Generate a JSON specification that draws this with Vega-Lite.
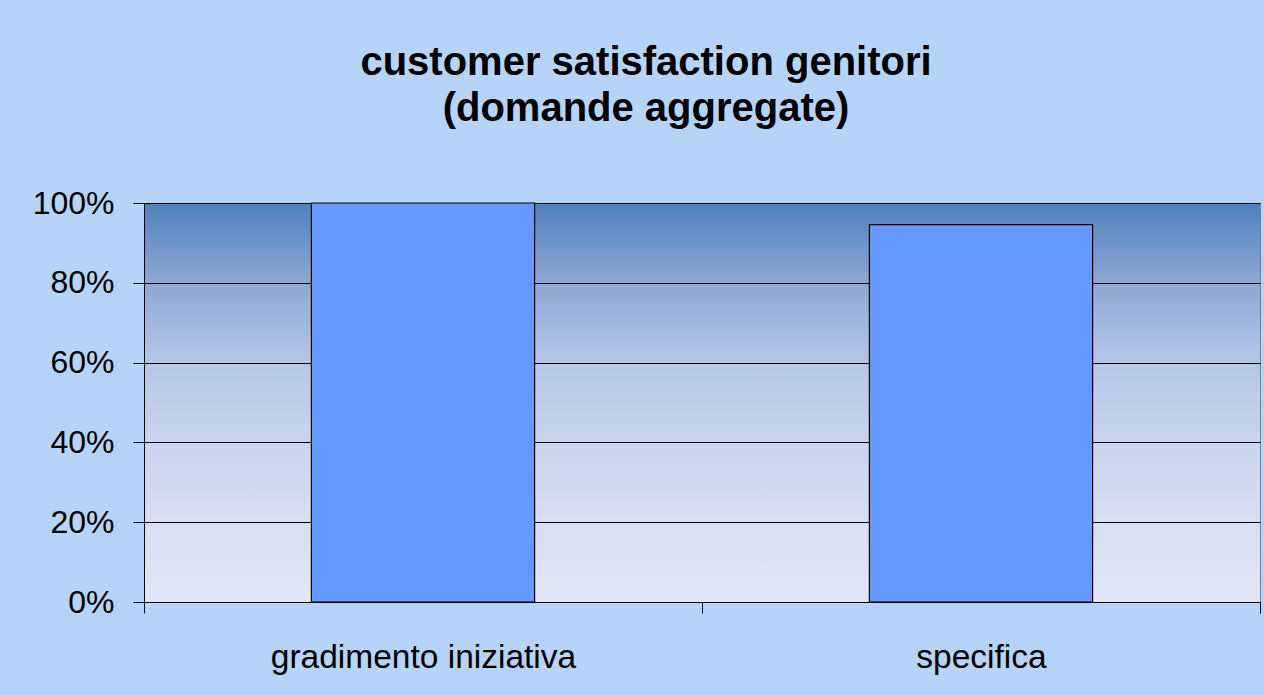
{
  "$schema": "https://vega.github.io/schema/vega-lite/v6.json",
  "width": 1116,
  "height": 399,
  "autosize": {"type": "none"},
  "padding": {"left": 144, "top": 203, "right": 4, "bottom": 93},
  "background": "#B6D4F8",
  "title": {
    "text": ["customer satisfaction genitori", "(domande aggregate)"],
    "font": "Liberation Sans",
    "fontSize": 40,
    "fontWeight": "bold",
    "color": "#000000",
    "lineHeight": 46,
    "anchor": "middle",
    "dx": -56,
    "offset": 58
  },
  "data": {
    "values": [
      {"category": "gradimento iniziativa", "value": 1.0},
      {"category": "specifica", "value": 0.946}
    ]
  },
  "mark": {"type": "bar", "fill": "#6699FF", "stroke": "#000000", "strokeWidth": 1.2, "width": {"band": 0.4}},
  "encoding": {
    "x": {
      "field": "category",
      "type": "nominal",
      "sort": null,
      "scale": {"paddingInner": 0, "paddingOuter": 0},
      "axis": {
        "title": null,
        "labelAngle": 0,
        "labelFont": "Liberation Sans",
        "labelFontSize": 33.5,
        "labelColor": "#000000",
        "labelLimit": 0,
        "tickBand": "extent",
        "tickSize": 11,
        "tickColor": "#000000",
        "domainColor": "#000000",
        "labelPadding": 28,
        "grid": false
      }
    },
    "y": {
      "field": "value",
      "type": "quantitative",
      "scale": {"domain": [0, 1], "nice": false},
      "axis": {
        "title": null,
        "values": [0, 0.2, 0.4, 0.6, 0.8, 1],
        "format": ".0%",
        "labelFont": "Liberation Sans",
        "labelFontSize": 32,
        "labelColor": "#000000",
        "tickSize": 11,
        "tickColor": "#000000",
        "domainColor": "#000000",
        "gridColor": "#000000",
        "gridOpacity": 1,
        "labelPadding": 19
      }
    }
  },
  "config": {
    "view": {
      "fill": {
        "gradient": "linear",
        "x1": 0, "y1": 0, "x2": 0, "y2": 1,
        "stops": [
          {"offset": 0, "color": "#4F81BD"},
          {"offset": 0.2, "color": "#8FA8D2"},
          {"offset": 0.4, "color": "#B5C6E7"},
          {"offset": 0.6, "color": "#C9D5EE"},
          {"offset": 0.8, "color": "#D6DEF1"},
          {"offset": 1, "color": "#E1E7F5"}
        ]
      },
      "stroke": "#808080"
    }
  }
}
